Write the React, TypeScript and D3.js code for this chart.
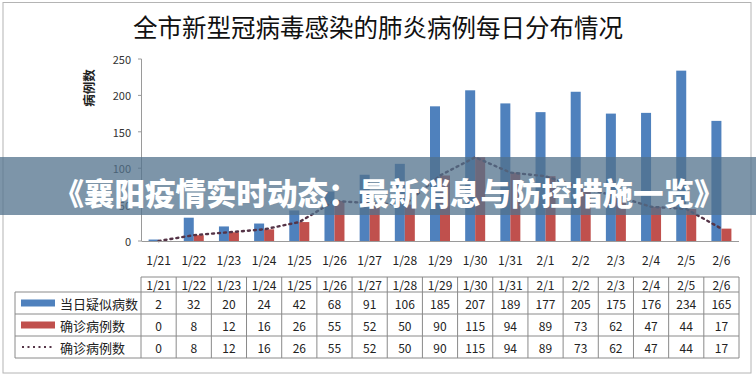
import React from 'react';
import * as d3 from 'd3';

// chart values
const dates = ['1/21', '1/22', '1/23', '1/24', '1/25', '1/26', '1/27', '1/28', '1/29', '1/30', '1/31', '2/1', '2/2', '2/3', '2/4', '2/5', '2/6'];
const suspected = [2, 32, 20, 24, 42, 68, 91, 106, 185, 207, 189, 177, 205, 175, 176, 234, 165];
const confirmed = [0, 8, 12, 16, 26, 55, 52, 50, 90, 115, 94, 89, 73, 62, 47, 44, 17];
const yTicks = [0, 50, 100, 150, 200, 250];
const seriesNames = ['当日疑似病数', '确诊病例数', '确诊病例数'];

const title = '全市新型冠病毒感染的肺炎病例每日分布情况';
const banner = '《襄阳疫情实时动态：最新消息与防控措施一览》';

const W = 756;
const H = 375;
const font = '"Noto Sans CJK SC", "Noto Sans", sans-serif';
const blue = '#4f81bd';
const red = '#c0504d';
const dotColor = '#553447';

const App = () => {
  const x = d3.scaleBand<string>().domain(dates).range([141, 739]);
  const y = d3.scaleLinear().domain([0, 250]).range([241, 59]);
  const bw = 10;
  const cx = (d: string) => (x(d) as number) + x.bandwidth() / 2;

  const line = d3
    .line<number>()
    .x((_, i) => cx(dates[i]))
    .y(d => y(d));

  // table rows
  const tLeft = 15;
  const tRight = 739;
  const headTop = 277;
  const rowEdges = [292, 314, 336, 358];
  const rows = [suspected, confirmed, confirmed];

  return (
    <svg width={W} height={H} style={{ position: 'absolute', left: 0, top: 0, background: '#fff' }}>
      <rect x={3} y={2.5} width={748} height={370.5} fill="#fff" stroke="#b4b4b4" />
      <text x={378} y={26} textAnchor="middle" dominantBaseline="central" fontFamily={font} fontSize={24.5} fill="#111">
        {title}
      </text>

      {/* y axis */}
      <text
        transform="translate(88,88) rotate(-90)"
        textAnchor="middle"
        dominantBaseline="central"
        fontFamily={font}
        fontSize={12.5}
        fontWeight="bold"
        fill="#222"
      >
        病例数
      </text>
      <line x1={141.5} x2={141.5} y1={y(250)} y2={y(0)} stroke="#9a9a9a" />
      {yTicks.map(t => (
        <g key={t}>
          <line x1={138} x2={141.5} y1={y(t)} y2={y(t)} stroke="#9a9a9a" />
          <text x={131} y={y(t)} textAnchor="end" dominantBaseline="central" fontFamily={font} fontSize={11} fill="#333">
            {t}
          </text>
        </g>
      ))}

      {/* bars */}
      {dates.map((d, i) => (
        <g key={d}>
          <rect x={cx(d) - bw} y={y(suspected[i])} width={bw} height={y(0) - y(suspected[i])} fill={blue} />
          <rect x={cx(d)} y={y(confirmed[i])} width={bw} height={y(0) - y(confirmed[i])} fill={red} />
        </g>
      ))}
      <path d={line(confirmed) || ''} fill="none" stroke={dotColor} strokeWidth={2.4} strokeDasharray="2 4" strokeLinecap="round" />
      <line x1={141.5} x2={tRight} y1={y(0) + 0.5} y2={y(0) + 0.5} stroke="#9a9a9a" />

      {/* x labels */}
      {dates.map(d => (
        <text key={d} x={cx(d)} y={259} textAnchor="middle" dominantBaseline="central" fontFamily={font} fontSize={12} fill="#222">
          {d}
        </text>
      ))}

      {/* data table */}
      <g stroke="#8a8a8a" fill="none">
        <line x1={141} x2={tRight} y1={headTop} y2={headTop} />
        {rowEdges.map(e => (
          <line key={e} x1={tLeft} x2={tRight} y1={e} y2={e} />
        ))}
        <line x1={tLeft} x2={tLeft} y1={rowEdges[0]} y2={rowEdges[3]} />
        {dates.map(d => (
          <line key={d} x1={x(d) as number} x2={x(d) as number} y1={headTop} y2={rowEdges[3]} />
        ))}
        <line x1={tRight} x2={tRight} y1={headTop} y2={rowEdges[3]} />
      </g>
      {dates.map(d => (
        <text key={d} x={cx(d)} y={(headTop + rowEdges[0]) / 2} textAnchor="middle" dominantBaseline="central" fontFamily={font} fontSize={12} fill="#222">
          {d}
        </text>
      ))}
      {rows.map((vals, r) => {
        const mid = (rowEdges[r] + rowEdges[r + 1]) / 2;
        return (
          <g key={r}>
            {r < 2 ? (
              <rect x={21} y={mid - 3.5} width={34} height={7} fill={r === 0 ? blue : red} />
            ) : (
              <line x1={22} x2={55} y1={mid} y2={mid} stroke={dotColor} strokeWidth={2} strokeDasharray="2 3.5" />
            )}
            <text x={60} y={mid} dominantBaseline="central" fontFamily={font} fontSize={13} fill="#222">
              {seriesNames[r]}
            </text>
            {vals.map((v, i) => (
              <text key={i} x={cx(dates[i])} y={mid} textAnchor="middle" dominantBaseline="central" fontFamily={font} fontSize={12} fill="#222">
                {v}
              </text>
            ))}
          </g>
        );
      })}

      {/* overlay banner */}
      <rect x={0} y={157} width={W} height={58} fill="#52728c" opacity={0.75} />
      <text x={389} y={192} textAnchor="middle" dominantBaseline="central" fontFamily={font} fontSize={30.5} fontWeight={900} fill="#fff">
        {banner}
      </text>
    </svg>
  );
};

export default App;
